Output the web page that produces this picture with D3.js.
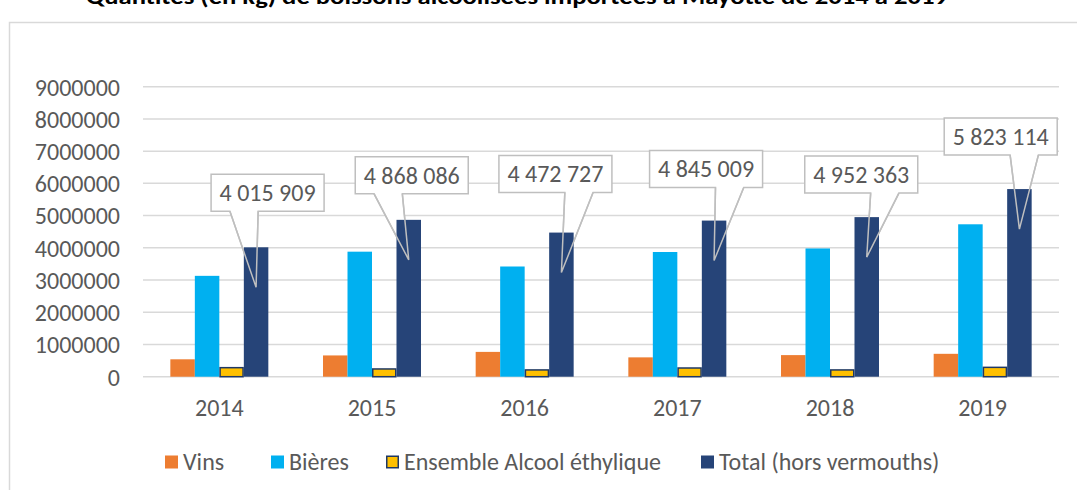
<!DOCTYPE html>
<html>
<head>
<meta charset="utf-8">
<script src="https://cdnjs.cloudflare.com/ajax/libs/d3/7.8.5/d3.min.js"></script>
<style>
  html, body { margin: 0; padding: 0; background: #fff; }
  svg { display: block; }
  text { font-family: Calibri, Carlito, Lato, "Open Sans", sans-serif; }
</style>
</head>
<body>
<svg id="chart" width="1077" height="490"></svg>
<script>
// ---- data ----
const years = ["2014", "2015", "2016", "2017", "2018", "2019"];
const seriesNames = ["Vins", "Bières", "Ensemble Alcool éthylique", "Total (hors vermouths)"];
const vins = [540000, 660000, 770000, 600000, 670000, 710000];
const bieres = [3130000, 3880000, 3420000, 3870000, 3980000, 4730000];
const alcool = [280000, 240000, 210000, 270000, 210000, 290000];
const total = [4015909, 4868086, 4472727, 4845009, 4952363, 5823114];
const yTicks = [0, 1000000, 2000000, 3000000, 4000000, 5000000, 6000000, 7000000, 8000000, 9000000];
const totalLabels = ["4 015 909", "4 868 086", "4 472 727", "4 845 009", "4 952 363", "5 823 114"];
const title = "Quantités (en kg) de boissons alcoolisées importées à Mayotte de 2014 à 2019";

// ---- layout / style (not data) ----
const colors = ["#ED7D31", "#00B0F0", "#FFC000", "#264478"];
const calloutDX = [11.5, 3, -6, -8, -5.5, -18.7];   // box centre relative to bar centre (px)
const calloutDY = [36, 26, 40, 33, 24, 34];         // box bottom above bar top (px)
const FS = 24;

const svg = d3.select("#chart");
const textColor = "#595959";
const gridColor = "#d9d9d9";

// frame
svg.append("rect").attr("x", 9.5).attr("y", 22.5).attr("width", 1100).attr("height", 500)
  .attr("fill", "#fff").attr("stroke", "#d9d9d9").attr("stroke-width", 1.5);

// title (cut off at top, as in the source image)
svg.append("text").attr("x", 517).attr("y", 4).attr("text-anchor", "middle")
  .attr("font-size", 22).attr("font-weight", "bold").attr("fill", "#000")
  .attr("textLength", 862).attr("lengthAdjust", "spacingAndGlyphs")
  .text(title);

const x = d3.scaleBand().domain(years).range([143, 1059]).paddingInner(0).paddingOuter(0);
const xs = d3.scaleBand().domain(seriesNames).range([0, x.bandwidth()]).paddingInner(0).paddingOuter(1.116);
const y = d3.scaleLinear().domain([0, 9000000]).range([376.7, 86.7]);

// gridlines
svg.append("g").selectAll("line").data(yTicks).join("line")
  .attr("x1", 143).attr("x2", 1059)
  .attr("y1", d => y(d)).attr("y2", d => y(d))
  .attr("stroke", gridColor).attr("stroke-width", 1.5);

// y axis labels
const yAxis = d3.axisLeft(y).tickValues(yTicks).tickSize(0).tickPadding(0).tickFormat(d3.format("d"));
const gy = svg.append("g").attr("transform", "translate(120,0)").call(yAxis);
gy.select(".domain").remove();
gy.selectAll("text").attr("font-size", FS).attr("fill", textColor)
  .attr("font-family", "Calibri, Carlito, Lato, 'Open Sans', sans-serif").attr("dy", "0.35em");

// x axis labels
const xAxis = d3.axisBottom(x).tickSize(0).tickPadding(0);
const gx = svg.append("g").attr("transform", "translate(0,376.7)").call(xAxis);
gx.select(".domain").remove();
gx.selectAll("text").attr("font-size", FS).attr("fill", textColor)
  .attr("font-family", "Calibri, Carlito, Lato, 'Open Sans', sans-serif").attr("y", 31).attr("dy", "0.35em");

const seriesData = [vins, bieres, alcool, total];

// callout geometry
function callout(i) {
  const bw = xs.bandwidth();
  const cx = x(years[i]) + xs(seriesNames[3]) + bw / 2;
  const top = y(total[i]);
  const w = 113, h = 37;
  const bx = cx + calloutDX[i] - w / 2;
  const bb = top - calloutDY[i];
  const by = bb - h;
  const tipX = cx, tipY = top + 40;
  const right = tipX > bx + w / 2;
  const b1 = bx + w * (right ? 7 : 2) / 12;
  const b2 = bx + w * (right ? 10 : 5) / 12;
  return { bx, by, w, h, bb, tipX, tipY, b1, b2 };
}
function calloutPath(c) {
  return `M${c.bx},${c.by} L${c.bx + c.w},${c.by} L${c.bx + c.w},${c.bb} L${c.b2},${c.bb} L${c.tipX},${c.tipY} L${c.b1},${c.bb} L${c.bx},${c.bb} Z`;
}
const callouts = years.map((_, i) => callout(i));

// callout fills (behind bars)
svg.append("g").selectAll("path").data(callouts).join("path")
  .attr("d", calloutPath).attr("fill", "#fff").attr("stroke", "#bfbfbf").attr("stroke-width", 1.5);

// bars
const gBars = svg.append("g");
seriesData.forEach((vals, s) => {
  gBars.append("g").selectAll("rect").data(vals).join("rect")
    .attr("x", (d, i) => x(years[i]) + xs(seriesNames[s]) + (s === 2 ? 0.75 : 0))
    .attr("width", xs.bandwidth() - (s === 2 ? 1.5 : 0))
    .attr("y", d => y(d))
    .attr("height", d => y(0) - y(d))
    .attr("fill", colors[s])
    .attr("stroke", s === 2 ? "#1F3864" : "none")
    .attr("stroke-width", s === 2 ? 1.5 : 0);
});

// callout pointer outlines on top of bars
svg.append("g").selectAll("path").data(callouts).join("path")
  .attr("d", c => `M${c.b2},${c.bb} L${c.tipX},${c.tipY} L${c.b1},${c.bb}`)
  .attr("fill", "none").attr("stroke", "#bfbfbf").attr("stroke-width", 1.5);

// callout texts
svg.append("g").selectAll("text").data(callouts).join("text")
  .attr("x", c => c.bx + c.w / 2).attr("y", c => c.by + c.h / 2)
  .attr("dy", "0.35em").attr("text-anchor", "middle")
  .attr("font-size", FS).attr("fill", textColor)
  .text((c, i) => totalLabels[i]);

// legend
const legendX = [165, 271, 386, 701];
const lg = svg.append("g");
seriesNames.forEach((name, s) => {
  lg.append("rect").attr("x", legendX[s] + (s === 2 ? 0.75 : 0)).attr("y", 455.5 + (s === 2 ? 0.75 : 0))
    .attr("width", s === 2 ? 11.5 : 13).attr("height", s === 2 ? 11.5 : 13)
    .attr("fill", colors[s]).attr("stroke", s === 2 ? "#1F3864" : "none").attr("stroke-width", 1.5);
  lg.append("text").attr("x", legendX[s] + 18).attr("y", 462).attr("dy", "0.35em")
    .attr("font-size", FS).attr("fill", textColor).text(name);
});
</script>
</body>
</html>
